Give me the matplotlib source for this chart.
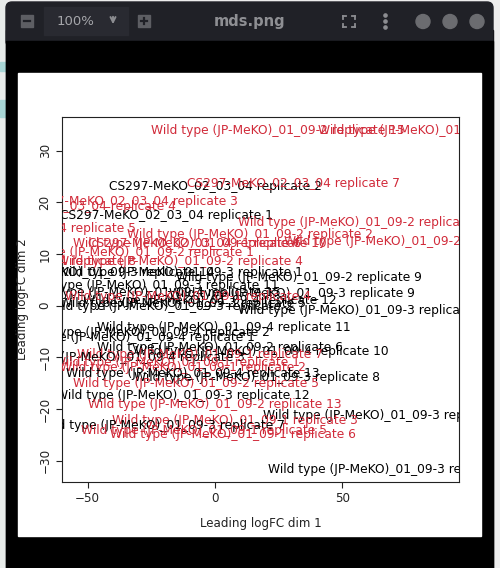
import matplotlib
matplotlib.use("Agg")
import matplotlib.pyplot as plt
from matplotlib.patches import Rectangle, FancyBboxPatch, Circle

# ---------------- data ----------------
RED = "#D12B3A"
BLACK = "#000000"

labels = [
    "Wild type (JP-MeKO)_01_09-2 replicate 15",
    "Wild type (JP-MeKO)_01_09-2 replicate 14",
    "CS297-MeKO_02_03_04 replicate 2",
    "CS297-MeKO_02_03_04 replicate 7",
    "CS297-MeKO_02_03_04 replicate 3",
    "CS297-MeKO_02_03_04 replicate 4",
    "CS297-MeKO_02_03_04 replicate 1",
    "Wild type (JP-MeKO)_01_09-2 replicate 11",
    "CS297-MeKO_02_03_04 replicate 5",
    "Wild type (JP-MeKO)_01_09-2 replicate 2",
    "Wild type (JP-MeKO)_01_09-1 replicate 10",
    "Wild type (JP-MeKO)_01_09-2 replicate 12",
    "CS297-MeKO_02_03_04 replicate 6",
    "Wild type (JP-MeKO)_01_09-2 replicate 1",
    "Wild type (JP-MeKO)_01_09-2 replicate 4",
    "CS297-MeKO_02_03_04 replicate 8",
    "Wild type (JP-MeKO)_01_09-3 replicate 14",
    "Wild type (JP-MeKO)_01_09-3 replicate 1",
    "Wild type (JP-MeKO)_01_09-2 replicate 9",
    "Wild type (JP-MeKO)_01_09-3 replicate 11",
    "Wild type (JP-MeKO)_01_09-3 replicate 9",
    "Wild type (JP-MeKO)_01_09-4 replicate 15",
    "Wild type (JP-MeKO)_01_09-4 replicate 12",
    "Wild type (JP-MeKO)_01_09-3 replicate 10",
    "Wild type (JP-MeKO)_01_09-1 replicate 4",
    "Wild type (JP-MeKO)_01_09-3 replicate 5",
    "Wild type (JP-MeKO)_01_09-3 replicate 2",
    "Wild type (JP-MeKO)_01_09-4 replicate 11",
    "Wild type (JP-MeKO)_01_09-4 replicate 2",
    "Wild type (JP-MeKO)_01_09-4 replicate 1",
    "Wild type (JP-MeKO)_01_09-2 replicate 6",
    "Wild type (JP-MeKO)_01_09-4 replicate 10",
    "Wild type (JP-MeKO)_01_09-1 replicate 7",
    "Wild type (JP-MeKO)_01_09-4 replicate 3",
    "Wild type (JP-MeKO)_01_09-1 replicate 1",
    "Wild type (JP-MeKO)_01_09-1 replicate 2",
    "Wild type (JP-MeKO)_01_09-4 replicate 13",
    "Wild type (JP-MeKO)_01_09-3 replicate 8",
    "Wild type (JP-MeKO)_01_09-2 replicate 5",
    "Wild type (JP-MeKO)_01_09-3 replicate 12",
    "Wild type (JP-MeKO)_01_09-2 replicate 13",
    "Wild type (JP-MeKO)_01_09-3 replicate 4",
    "Wild type (JP-MeKO)_01_09-1 replicate 3",
    "Wild type (JP-MeKO)_01_09-3 replicate 7",
    "Wild type (JP-MeKO)_01_09-1 replicate 5",
    "Wild type (JP-MeKO)_01_09-1 replicate 6",
    "Wild type (JP-MeKO)_01_09-3 replicate 6",
]

dim1 = [24.7, 90.3, 0.0, 30.6, -33.0, -57.0, -19.2, 58.9, -72.7, 13.7,
        -5.9, 77.0, -7.9, -33.0, -13.7, -72.7, -50.0, -13.7, 33.0, -24.7,
        30.2, -24.0, -2.0, 58.9, -10.6, -12.6, -17.7, 3.5, -26.7, -32.6,
        2.0, 18.5, -5.9, -36.5, -14.9, -12.6, -8.6, 16.5, -7.5, -12.6,
        0.0, 67.2, 7.9, -20.8, -4.5, 7.1, 69.1]

dim2 = [33.8, 33.8, 23.0, 23.6, 20.1, 19.1, 17.4, 16.0, 15.0, 13.7,
        12.1, 12.5, 12.0, 10.2, 8.5, 8.6, 6.5, 6.5, 5.4, 4.0,
        2.3, 2.6, 1.1, -1.0, 1.7, 0.5, -0.1, -4.3, -5.1, -6.2,
        -8.0, -8.8, -9.5, -10.1, -10.9, -11.9, -13.2, -13.8, -15.0, -17.3,
        -19.2, -21.2, -22.3, -23.1, -24.1, -25.0, -31.6]

colors = [RED, RED, BLACK, RED, RED, RED, BLACK, RED, RED, RED,
          RED, RED, RED, RED, RED, RED, BLACK, BLACK, BLACK, BLACK,
          BLACK, BLACK, BLACK, BLACK, RED, BLACK, BLACK, BLACK, BLACK, BLACK,
          BLACK, BLACK, RED, BLACK, RED, RED, BLACK, BLACK, RED, BLACK,
          RED, BLACK, RED, BLACK, RED, RED, BLACK]

xticks = [-50, 0, 50]
yticks = [-30, -20, -10, 0, 10, 20, 30]
xlabel = "Leading logFC dim 1"
ylabel = "Leading logFC dim 2"
title_text = "mds.png"
zoom_text = "100%"

# ---------------- figure ----------------
W, H = 500, 568
fig = plt.figure(figsize=(W / 100, H / 100), dpi=100)
fig.patch.set_facecolor("#ededed")

# chrome overlay in pixel coordinates
bg = fig.add_axes([0, 0, 1, 1])
bg.set_xlim(0, W)
bg.set_ylim(H, 0)
bg.axis("off")

# left / right strips
bg.add_patch(Rectangle((0, 0), 6, H, color="#e8ecea", zorder=0))
bg.add_patch(Rectangle((0, 62), 6, 9, color="#a9d6d6", zorder=1))
bg.add_patch(Rectangle((0, 100), 6, 17, color="#a9d6d6", zorder=1))
bg.add_patch(Rectangle((493, 0), 7, H, color="#eeeeee", zorder=0))

# window body (black) and title bar
bg.add_patch(Rectangle((6, 30), 487, H - 30, color="#000000", zorder=1))
bg.add_patch(FancyBboxPatch((6, 2), 487, 45, boxstyle="round,pad=0,rounding_size=6",
                            color="#202127", zorder=2, mutation_aspect=1))
bg.add_patch(Rectangle((6, 41), 487, H - 41, color="#000000", zorder=3))

# title bar controls
bg.add_patch(Rectangle((44, 7), 84, 28, color="#292a31", zorder=4))
bg.add_patch(Rectangle((21, 15), 12, 12, color="#5d5e63", zorder=4))
bg.plot([24, 30], [21, 21], color="#202127", lw=1.6, zorder=5)
bg.add_patch(Rectangle((138, 15), 12, 12, color="#5d5e63", zorder=4))
bg.plot([141, 147], [21, 21], color="#202127", lw=1.6, zorder=5)
bg.plot([144, 144], [18, 24], color="#202127", lw=1.6, zorder=5)
bg.text(75, 21.5, zoom_text, color="#a5a6aa", fontsize=9.5, ha="center", va="center",
        zorder=5, family="DejaVu Sans")
bg.annotate("", xy=(113, 27), xytext=(113, 14),
            arrowprops=dict(arrowstyle="->", color="#8c8d91", lw=1.4, mutation_scale=9),
            zorder=5)
bg.text(250, 21.5, title_text, color="#8e8f93", fontsize=10.5, fontweight="bold",
        ha="center", va="center", zorder=5)
fc = "#8c8d91"
for (x0, y0, dx, dy) in [(343, 16, 1, 1), (355, 16, -1, 1), (343, 27, 1, -1), (355, 27, -1, -1)]:
    bg.plot([x0, x0 + 3 * dx], [y0, y0], color=fc, lw=1.3, zorder=5)
    bg.plot([x0, x0], [y0, y0 + 3 * dy], color=fc, lw=1.3, zorder=5)
for yy in (15.5, 21.5, 27.5):
    bg.add_patch(Circle((385.5, yy), 1.6, color=fc, zorder=5))
for cx in (423, 450, 477):
    bg.add_patch(Circle((cx, 21.5), 7, color="#6b6c70", zorder=5))

# white image area
bg.add_patch(Rectangle((18, 73), 463, 463, color="#ffffff", zorder=4))

# ---------------- plot ----------------
L, R, T, B = 62, 459, 117, 482
ax = fig.add_axes([L / W, 1 - B / H, (R - L) / W, (B - T) / H])
ax.set_facecolor("white")
ax.set_xlim(-60.1, 95.8)
ax.set_ylim(-34.1, 36.5)

for s, x, y, c in zip(labels, dim1, dim2, colors):
    ax.text(x, y, s, color=c, fontsize=8.8, ha="center", va="center", clip_on=True)

for sp in ax.spines.values():
    sp.set_linewidth(0.8)
    sp.set_color("#222222")
ax.set_xticks(xticks)
ax.set_yticks(yticks)
ax.tick_params(direction="out", length=4.5, width=0.8, labelsize=8.6, pad=3,
               colors="#222222")
for lab in ax.get_yticklabels():
    lab.set_rotation(90)
    lab.set_va("center")
ax.set_xlabel(xlabel, fontsize=8.6, labelpad=8, color="#222222")
ax.set_ylabel(ylabel, fontsize=8.6, labelpad=7, color="#222222")

fig.savefig("out.png", dpi=100)
